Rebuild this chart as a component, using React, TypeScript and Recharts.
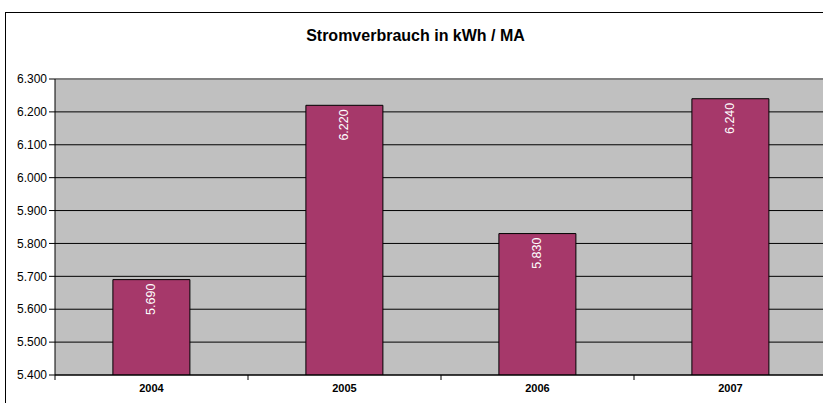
import { BarChart, Bar, XAxis, YAxis, CartesianGrid, LabelList, ReferenceLine } from 'recharts';

const years = ['2004', '2005', '2006', '2007'];
const kwhPerMa = [5690, 6220, 5830, 6240];
const yTicks = [5400, 5500, 5600, 5700, 5800, 5900, 6000, 6100, 6200, 6300];

const data = years.map((year, i) => ({ year, value: kwhPerMa[i] }));

// German thousands separator: 5690 -> "5.690"
const fmt = (v: number) => String(v).replace(/\B(?=(\d{3})+(?!\d))/g, '.');

const FONT = 'Arial, "Liberation Sans", sans-serif';

function YearTick(props: any) {
  const { x, y, payload, index, visibleTicksCount } = props;
  const half = payload.offset || 96;
  return (
    <g>
      <line x1={x - half} y1={y - 8} x2={x - half} y2={y - 3} stroke="#000" />
      {index === visibleTicksCount - 1 && (
        <line x1={x + half} y1={y - 8} x2={x + half} y2={y - 3} stroke="#000" />
      )}
      <text x={x} y={y + 9} textAnchor="middle" fontFamily={FONT} fontSize={11} fontWeight="bold" fill="#000">
        {payload.value}
      </text>
    </g>
  );
}

function ValueLabel(props: any) {
  const { x, y, width, value } = props;
  const cx = x + width / 2;
  const ty = y + 4;
  return (
    <text
      x={cx}
      y={ty}
      transform={`rotate(-90 ${cx} ${ty})`}
      textAnchor="end"
      dominantBaseline="central"
      fontFamily={FONT}
      fontSize={12.5}
      fill="#fff"
    >
      {fmt(value)}
    </text>
  );
}

export default function App() {
  return (
    <div style={{ position: 'absolute', left: 0, top: 0, width: 823, height: 403, overflow: 'hidden', background: '#fff' }}>
      {/* chart area frame */}
      <div style={{ position: 'absolute', left: 5, top: 12, width: 840, height: 420, border: '1.5px solid #000', boxSizing: 'border-box' }} />
      <div
        style={{
          position: 'absolute', left: 4, width: 823, top: 27, textAlign: 'center',
          fontFamily: FONT, fontWeight: 'bold', fontSize: 16, color: '#000',
        }}
      >
        Stromverbrauch in kWh / MA
      </div>
      <div style={{ position: 'absolute', left: 0, top: 0 }}>
        <BarChart width={823} height={403} data={data} margin={{ top: 79, right: -4, bottom: 0, left: 0 }} barCategoryGap="30%">
          <CartesianGrid vertical={false} fill="#C0C0C0" stroke="#000" strokeOpacity={1} />
          <XAxis
            dataKey="year"
            height={28}
            axisLine={{ stroke: '#000' }}
            tickLine={false}
            tick={<YearTick />}
            interval={0}
          />
          <YAxis
            width={55}
            domain={[5400, 6300]}
            ticks={yTicks}
            interval={0}
            tickFormatter={fmt}
            axisLine={{ stroke: '#000' }}
            tickLine={{ stroke: '#000' }}
            tickSize={6}
            tickMargin={2}
            tick={{ fontFamily: FONT, fontSize: 12, fill: '#000' }}
            allowDataOverflow
          />
          <ReferenceLine y={6300} stroke="#808080" strokeWidth={2} />
          <Bar dataKey="value" fill="#A6386A" stroke="#000" strokeWidth={1} isAnimationActive={false}>
            <LabelList dataKey="value" content={<ValueLabel />} />
          </Bar>
        </BarChart>
      </div>
    </div>
  );
}
